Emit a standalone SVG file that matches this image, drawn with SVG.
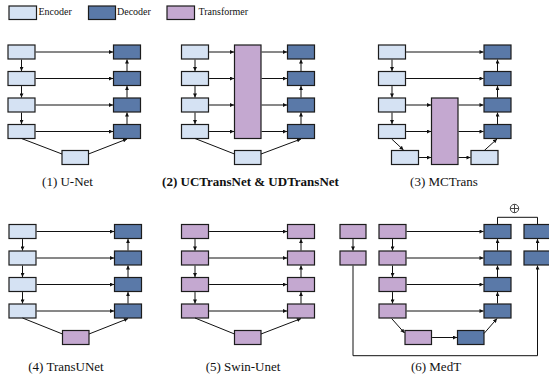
<svg xmlns="http://www.w3.org/2000/svg" width="549" height="382" viewBox="0 0 549 382">
  <style>
    .enc { fill: #d5e2f3; stroke: #1c1c1c; stroke-width: 1.2; }
    .dec { fill: #5a79a8; stroke: #1c1c1c; stroke-width: 1.2; }
    .trf { fill: #c4a8d0; stroke: #1c1c1c; stroke-width: 1.2; }
    .ln { fill: none; stroke: #111; stroke-width: 1; }
    .ar { fill: none; stroke: #111; stroke-width: 1; marker-end: url(#head); }
    .lg { font-size: 10px; fill: #111; }
    .cap { font-size: 13px; fill: #111; text-anchor: middle; }
    .bold { font-weight: bold; }
  </style>
  <defs>
    <marker id="head" viewBox="0 0 6 6" refX="6" refY="3" markerWidth="4.5" markerHeight="4" markerUnits="userSpaceOnUse" orient="auto">
      <path d="M0,0 L6,3 L0,6 z" fill="#111"/>
    </marker>
  </defs>

  <!-- legend -->
  <g id="legend" font-family="Liberation Serif, Times New Roman, serif">
    <rect class="enc" x="9" y="6" width="27.5" height="13.5"/>
    <text class="lg" x="38.5" y="14.5">Encoder</text>
    <rect class="dec" x="88.5" y="6" width="27" height="13.5"/>
    <text class="lg" x="117" y="14.5">Decoder</text>
    <rect class="trf" x="167" y="6" width="27.5" height="13.5"/>
    <text class="lg" x="198.5" y="14.5">Transformer</text>
  </g>

  <!-- (1) U-Net -->
  <g id="unet" font-family="Liberation Serif, Times New Roman, serif">
    <rect class="enc" x="8" y="45" width="27" height="14"/>
    <rect class="enc" x="8" y="71.5" width="27" height="14"/>
    <rect class="enc" x="8" y="98" width="27" height="14"/>
    <rect class="enc" x="8" y="124.5" width="27" height="14"/>
    <rect class="dec" x="113.5" y="45" width="27" height="14"/>
    <rect class="dec" x="113.5" y="71.5" width="27" height="14"/>
    <rect class="dec" x="113.5" y="98" width="27" height="14"/>
    <rect class="dec" x="113.5" y="124.5" width="27" height="14"/>
    <rect class="enc" x="62" y="150.5" width="26.5" height="14"/>
    <text class="cap" x="67.5" y="186">(1) U-Net</text>
  </g>

  <!-- (2) UCTransNet & UDTransNet -->
  <g id="uctransnet" font-family="Liberation Serif, Times New Roman, serif">
    <rect class="enc" x="181.5" y="45" width="27" height="14"/>
    <rect class="enc" x="181.5" y="71.5" width="27" height="14"/>
    <rect class="enc" x="181.5" y="98" width="27" height="14"/>
    <rect class="enc" x="181.5" y="124.5" width="27" height="14"/>
    <rect class="trf" x="234.5" y="45" width="26.5" height="93.5"/>
    <rect class="dec" x="287.5" y="45" width="27" height="14"/>
    <rect class="dec" x="287.5" y="71.5" width="27" height="14"/>
    <rect class="dec" x="287.5" y="98" width="27" height="14"/>
    <rect class="dec" x="287.5" y="124.5" width="27" height="14"/>
    <rect class="enc" x="234.5" y="150.5" width="26.5" height="14"/>
    <text class="cap bold" x="250.5" y="186">(2) UCTransNet &amp; UDTransNet</text>
  </g>

  <!-- (3) MCTrans -->
  <g id="mctrans" font-family="Liberation Serif, Times New Roman, serif">
    <rect class="enc" x="378.5" y="45" width="27" height="14"/>
    <rect class="enc" x="378.5" y="71.5" width="27" height="14"/>
    <rect class="enc" x="378.5" y="98" width="27" height="14"/>
    <rect class="enc" x="378.5" y="124.5" width="27" height="14"/>
    <rect class="trf" x="431.5" y="98" width="26.5" height="66.5"/>
    <rect class="dec" x="484" y="45" width="27" height="14"/>
    <rect class="dec" x="484" y="71.5" width="27" height="14"/>
    <rect class="dec" x="484" y="98" width="27" height="14"/>
    <rect class="dec" x="484" y="124.5" width="27" height="14"/>
    <rect class="enc" x="391.5" y="150.5" width="27" height="14"/>
    <rect class="enc" x="471" y="150.5" width="27" height="14"/>
    <text class="cap" x="444" y="186">(3) MCTrans</text>
  </g>

  <!-- (4) TransUNet -->
  <g id="transunet" font-family="Liberation Serif, Times New Roman, serif">
    <rect class="enc" x="9" y="224.5" width="27" height="14"/>
    <rect class="enc" x="9" y="251" width="27" height="14"/>
    <rect class="enc" x="9" y="277.5" width="27" height="14"/>
    <rect class="enc" x="9" y="304" width="27" height="14"/>
    <rect class="dec" x="114.5" y="224.5" width="27" height="14"/>
    <rect class="dec" x="114.5" y="251" width="27" height="14"/>
    <rect class="dec" x="114.5" y="277.5" width="27" height="14"/>
    <rect class="dec" x="114.5" y="304" width="27" height="14"/>
    <rect class="trf" x="62.5" y="330.5" width="26.5" height="14"/>
    <text class="cap" x="66" y="371">(4) TransUNet</text>
  </g>

  <!-- (5) Swin-Unet -->
  <g id="swinunet" font-family="Liberation Serif, Times New Roman, serif">
    <rect class="trf" x="181.5" y="224.5" width="27" height="14"/>
    <rect class="trf" x="181.5" y="251" width="27" height="14"/>
    <rect class="trf" x="181.5" y="277.5" width="27" height="14"/>
    <rect class="trf" x="181.5" y="304" width="27" height="14"/>
    <rect class="trf" x="287.5" y="224.5" width="27" height="14"/>
    <rect class="trf" x="287.5" y="251" width="27" height="14"/>
    <rect class="trf" x="287.5" y="277.5" width="27" height="14"/>
    <rect class="trf" x="287.5" y="304" width="27" height="14"/>
    <rect class="trf" x="234.5" y="330.5" width="26.5" height="14"/>
    <text class="cap" x="243" y="371">(5) Swin-Unet</text>
  </g>

  <!-- (6) MedT -->
  <g id="medt" font-family="Liberation Serif, Times New Roman, serif">
    <rect class="trf" x="340" y="224.5" width="26" height="14"/>
    <rect class="trf" x="340" y="251" width="26" height="14"/>
    <rect class="trf" x="379" y="224.5" width="27" height="14"/>
    <rect class="trf" x="379" y="251" width="27" height="14"/>
    <rect class="trf" x="379" y="277.5" width="27" height="14"/>
    <rect class="trf" x="379" y="304" width="27" height="14"/>
    <rect class="dec" x="484" y="224.5" width="27" height="14"/>
    <rect class="dec" x="484" y="251" width="27" height="14"/>
    <rect class="dec" x="484" y="277.5" width="27" height="14"/>
    <rect class="dec" x="484" y="304" width="27" height="14"/>
    <rect class="dec" x="524" y="224.5" width="27" height="14"/>
    <rect class="dec" x="524" y="251" width="27" height="14"/>
    <rect class="trf" x="405" y="330.5" width="26.5" height="14"/>
    <rect class="dec" x="457.5" y="330.5" width="26.5" height="14"/>
    <g id="sum" fill="none" stroke="#333" stroke-width="0.9">
      <circle cx="514.5" cy="208.5" r="4.2"/>
      <path d="M510.3,208.5 H518.7 M514.5,204.3 V212.7"/>
    </g>
    <text class="cap" x="436" y="371">(6) MedT</text>
  </g>

  <!-- connectors -->
  <g id="connectors">
    <!-- U-Net -->
    <path class="ar" d="M35.6,52 H113"/>
    <path class="ar" d="M35.6,78.5 H113"/>
    <path class="ar" d="M35.6,105 H113"/>
    <path class="ar" d="M35.6,131.5 H113"/>
    <path class="ar" d="M21.5,59.6 V71"/>
    <path class="ar" d="M21.5,86.1 V97.5"/>
    <path class="ar" d="M21.5,112.6 V124"/>
    <path class="ar" d="M127,71 V59.6"/>
    <path class="ar" d="M127,97.5 V86.1"/>
    <path class="ar" d="M127,124 V112.6"/>
    <path class="ln" d="M21.5,138.5 L62,154"/>
    <path class="ar" d="M88.5,154 L127,139"/>

    <!-- UCTransNet -->
    <path class="ar" d="M209.1,52 H234"/>
    <path class="ar" d="M209.1,78.5 H234"/>
    <path class="ar" d="M209.1,105 H234"/>
    <path class="ar" d="M209.1,131.5 H234"/>
    <path class="ar" d="M261.6,52 H287"/>
    <path class="ar" d="M261.6,78.5 H287"/>
    <path class="ar" d="M261.6,105 H287"/>
    <path class="ar" d="M261.6,131.5 H287"/>
    <path class="ar" d="M195,59.6 V71"/>
    <path class="ar" d="M195,86.1 V97.5"/>
    <path class="ar" d="M195,112.6 V124"/>
    <path class="ar" d="M301,71 V59.6"/>
    <path class="ar" d="M301,97.5 V86.1"/>
    <path class="ar" d="M301,124 V112.6"/>
    <path class="ln" d="M195,138.5 L234.5,154"/>
    <path class="ar" d="M261,154 L301,139"/>

    <!-- MCTrans -->
    <path class="ar" d="M406.1,52 H483.5"/>
    <path class="ar" d="M406.1,78.5 H483.5"/>
    <path class="ar" d="M406.1,105 H431"/>
    <path class="ar" d="M406.1,131.5 H431"/>
    <path class="ar" d="M458.6,105 H483.5"/>
    <path class="ar" d="M458.6,131.5 H483.5"/>
    <path class="ar" d="M392,59.6 V71"/>
    <path class="ar" d="M392,86.1 V97.5"/>
    <path class="ar" d="M392,112.6 V124"/>
    <path class="ar" d="M497.5,71 V59.6"/>
    <path class="ar" d="M497.5,97.5 V86.1"/>
    <path class="ar" d="M497.5,124 V112.6"/>
    <path class="ar" d="M391.7,139 L403.5,150"/>
    <path class="ar" d="M419.1,157.5 H431"/>
    <path class="ar" d="M458.6,157.5 H470.5"/>
    <path class="ar" d="M484.3,150.5 L497,139"/>

    <!-- TransUNet -->
    <path class="ar" d="M36.6,231.5 H114"/>
    <path class="ar" d="M36.6,258 H114"/>
    <path class="ar" d="M36.6,284.5 H114"/>
    <path class="ar" d="M36.6,311 H114"/>
    <path class="ar" d="M22.5,239.1 V250.5"/>
    <path class="ar" d="M22.5,265.6 V277"/>
    <path class="ar" d="M22.5,292.1 V303.5"/>
    <path class="ar" d="M128,250.5 V239.1"/>
    <path class="ar" d="M128,277 V265.6"/>
    <path class="ar" d="M128,303.5 V292.1"/>
    <path class="ln" d="M22.5,318 L62.5,334"/>
    <path class="ar" d="M89,334 L128,318.6"/>

    <!-- Swin-Unet -->
    <path class="ar" d="M209.1,231.5 H287"/>
    <path class="ar" d="M209.1,258 H287"/>
    <path class="ar" d="M209.1,284.5 H287"/>
    <path class="ar" d="M209.1,311 H287"/>
    <path class="ar" d="M195,239.1 V250.5"/>
    <path class="ar" d="M195,265.6 V277"/>
    <path class="ar" d="M195,292.1 V303.5"/>
    <path class="ar" d="M301,250.5 V239.1"/>
    <path class="ar" d="M301,277 V265.6"/>
    <path class="ar" d="M301,303.5 V292.1"/>
    <path class="ln" d="M195,318 L234.5,334"/>
    <path class="ar" d="M261,334 L301,318.6"/>

    <!-- MedT -->
    <path class="ar" d="M406.6,231.5 H483.5"/>
    <path class="ar" d="M406.6,258 H483.5"/>
    <path class="ar" d="M406.6,284.5 H483.5"/>
    <path class="ar" d="M406.6,311 H483.5"/>
    <path class="ar" d="M392.5,239.1 V250.5"/>
    <path class="ar" d="M392.5,265.6 V277"/>
    <path class="ar" d="M392.5,292.1 V303.5"/>
    <path class="ar" d="M497.5,250.5 V239.1"/>
    <path class="ar" d="M497.5,277 V265.6"/>
    <path class="ar" d="M497.5,303.5 V292.1"/>
    <path class="ar" d="M391.7,318.6 L404.5,333"/>
    <path class="ar" d="M432.1,337.5 H457"/>
    <path class="ar" d="M484,333.5 L497,318.6"/>
    <path class="ar" d="M353,239.1 V250.5"/>
    <path class="ar" d="M537.5,250.5 V239.1"/>
    <path class="ar" d="M353,265.6 V355.7 H537.5 V265.6"/>
    <path class="ln" d="M497.5,224 V217.3 H537.5 V224"/>
  </g>
</svg>
